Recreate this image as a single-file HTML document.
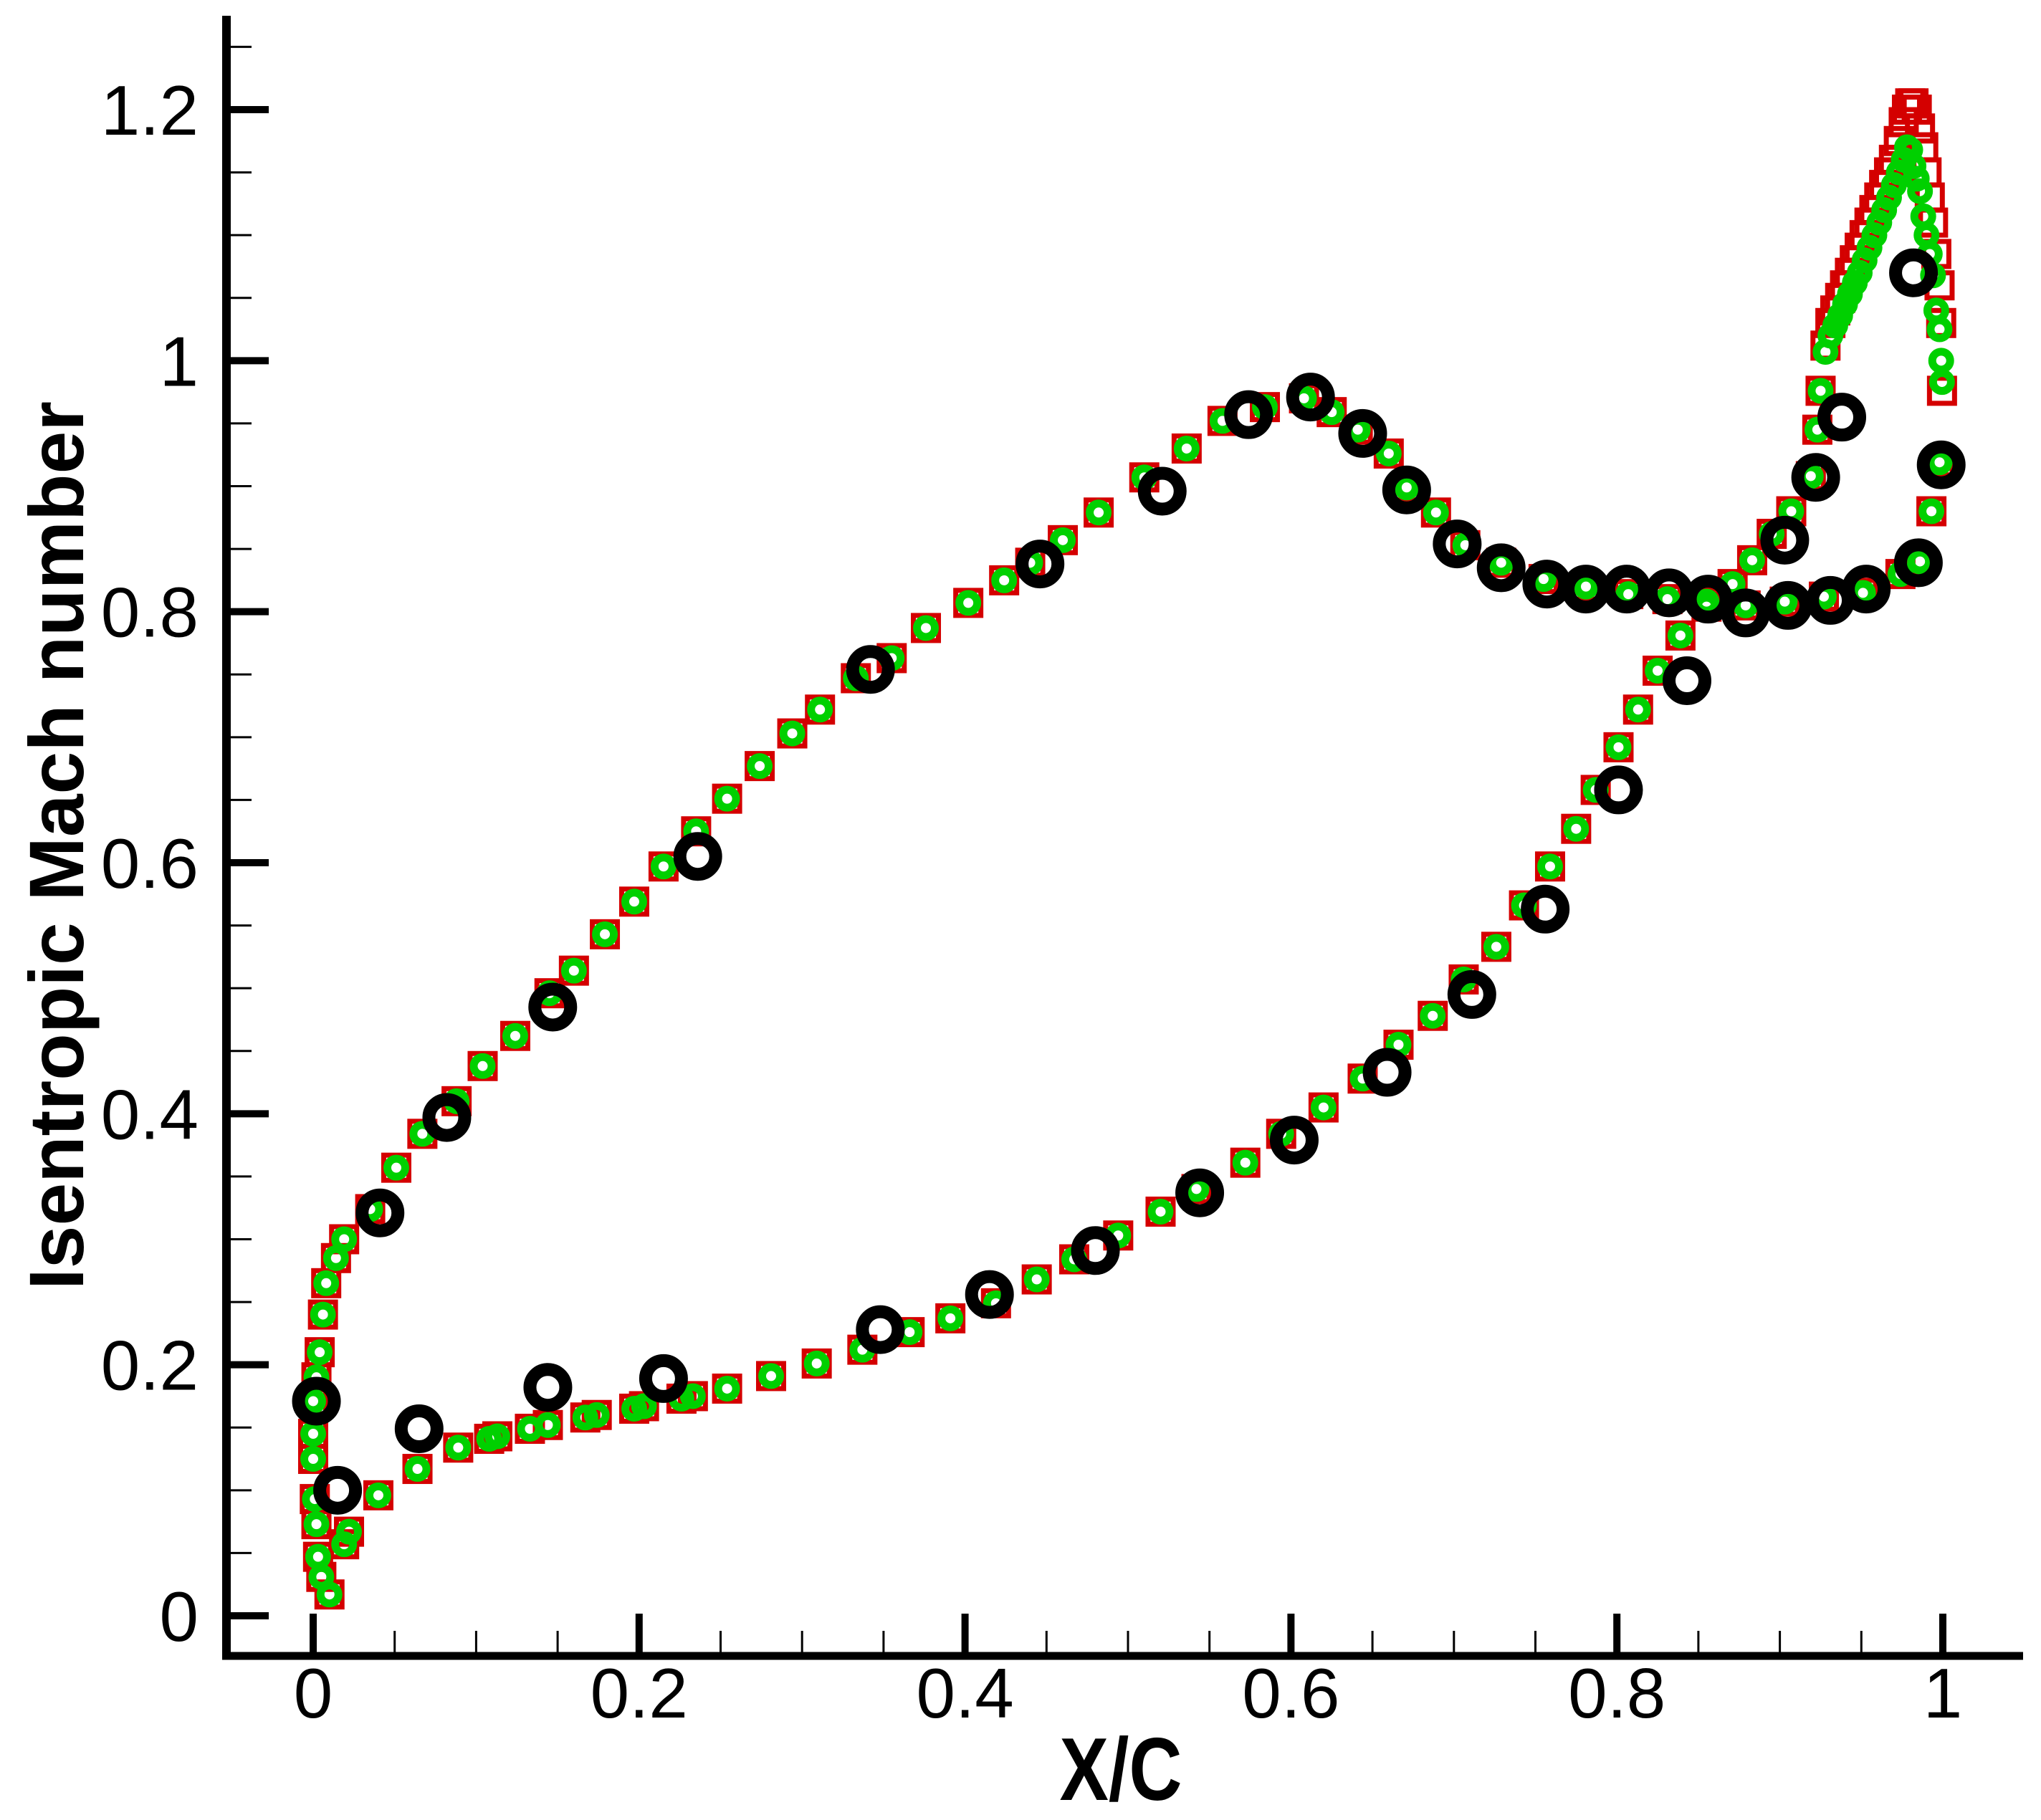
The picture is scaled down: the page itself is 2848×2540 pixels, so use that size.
<!DOCTYPE html>
<html><head><meta charset="utf-8"><title>Isentropic Mach number</title>
<style>html,body{margin:0;padding:0;background:#fff;}svg{display:block;}</style></head>
<body>
<svg id="chart" width="2848" height="2540" viewBox="0 0 2848 2540" xmlns="http://www.w3.org/2000/svg">
<rect x="0" y="0" width="2848" height="2540" fill="#fff"/>
<g id="marks"></g>
<g id="axes"></g>
<text x="1564" y="2512" text-anchor="middle" font-family="Liberation Sans, sans-serif" font-weight="bold" font-size="124" textLength="171" lengthAdjust="spacingAndGlyphs">X/C</text>
<text transform="translate(116,1180) rotate(-90)" text-anchor="middle" font-family="Liberation Sans, sans-serif" font-weight="bold" font-size="108" textLength="1240" lengthAdjust="spacingAndGlyphs">Isentropic Mach number</text>
</svg>
<script>
// ---- data ----
const cfdUpperX = [0,0.002,0.004,0.006,0.008,0.014,0.019,0.035,0.051,0.067,0.088,0.104,0.124,0.145,0.16,0.179,0.197,0.215,0.235,0.254,0.274,0.294,0.311,0.333,0.355,0.376,0.402,0.424,0.44,0.46,0.482,0.51,0.536,0.558,0.584,0.608,0.625,0.641,0.66,0.671,0.689,0.707,0.729,0.755,0.781,0.807,0.831,0.855,0.879,0.903,0.927,0.951,0.974,0.986,0.993,0.998];
const cfdUpperY = [0.171,0.19,0.21,0.24,0.265,0.285,0.30,0.324,0.357,0.384,0.41,0.438,0.462,0.496,0.514,0.543,0.569,0.597,0.625,0.651,0.677,0.703,0.722,0.747,0.763,0.787,0.807,0.825,0.839,0.857,0.879,0.907,0.93,0.952,0.963,0.97,0.959,0.945,0.926,0.899,0.879,0.853,0.839,0.826,0.82,0.814,0.81,0.808,0.805,0.808,0.812,0.815,0.83,0.84,0.88,0.919];
const cfdLowerX = [0,0,0.001,0.002,0.003,0.005,0.01,0.019,0.022,0.04,0.064,0.089,0.108,0.113,0.133,0.144,0.167,0.174,0.197,0.203,0.226,0.233,0.254,0.281,0.309,0.337,0.366,0.391,0.419,0.444,0.467,0.494,0.52,0.542,0.572,0.594,0.62,0.644,0.666,0.687,0.706,0.726,0.743,0.759,0.775,0.787,0.801,0.813,0.825,0.839,0.855,0.871,0.883,0.895,0.907,
 0.919,0.923,0.925,0.928,0.931,0.934,0.937,0.940,0.943,0.946,0.949,0.952,0.955,0.958,0.961,0.964,0.967,0.970,0.973,0.976,0.978,0.980,0.982,0.984,0.986,0.988,0.990,0.992,0.994,0.996,0.998,0.999,0.9995];
const cfdLowerRedY = [0.145,0.125,0.093,0.073,0.047,0.031,0.017,0.057,0.067,0.096,0.117,0.134,0.141,0.143,0.149,0.152,0.158,0.16,0.165,0.167,0.173,0.175,0.181,0.191,0.201,0.212,0.226,0.237,0.249,0.268,0.284,0.303,0.322,0.34,0.361,0.384,0.405,0.428,0.455,0.478,0.507,0.533,0.566,0.597,0.627,0.658,0.692,0.722,0.753,0.781,0.804,0.822,0.841,0.862,0.88,
 0.908,0.945,0.976,1.012,1.03,1.04,1.05,1.06,1.07,1.08,1.09,1.10,1.11,1.12,1.13,1.14,1.15,1.16,1.175,1.19,1.20,1.205,1.205,1.20,1.185,1.17,1.15,1.13,1.11,1.085,1.06,1.03,0.976];
const cfdLowerGreenY = [0.145,0.125,0.093,0.073,0.047,0.031,0.017,0.057,0.067,0.096,0.117,0.134,0.141,0.143,0.149,0.152,0.158,0.16,0.165,0.167,0.173,0.175,0.181,0.191,0.201,0.212,0.226,0.237,0.249,0.268,0.284,0.303,0.322,0.34,0.361,0.384,0.405,0.428,0.455,0.478,0.507,0.533,0.566,0.597,0.627,0.658,0.692,0.722,0.753,0.781,0.804,0.822,0.841,0.862,0.88,
 0.908,0.945,0.976,1.007,1.02,1.028,1.036,1.045,1.053,1.062,1.07,1.08,1.09,1.1,1.11,1.12,1.13,1.14,1.15,1.16,1.17,1.168,1.155,1.145,1.135,1.115,1.1,1.085,1.068,1.04,1.025,1.0,0.983];
const expX = [0.002,0.041,0.082,0.147,0.236,0.342,0.446,0.521,0.574,0.612,0.644,0.671,0.702,0.729,0.757,0.781,0.806,0.832,0.856,0.879,0.905,0.931,0.953,0.985,0.999,0.015,0.065,0.144,0.215,0.348,0.415,0.48,0.544,0.602,0.659,0.711,0.756,0.801,0.843,0.903,0.922,0.938,0.982];
const expY = [0.171,0.321,0.397,0.485,0.605,0.754,0.838,0.896,0.957,0.971,0.942,0.897,0.854,0.835,0.822,0.818,0.818,0.815,0.81,0.799,0.805,0.809,0.818,0.839,0.917,0.1,0.149,0.182,0.189,0.228,0.256,0.291,0.337,0.379,0.433,0.495,0.563,0.658,0.745,0.857,0.907,0.955,1.07];
const xTicks = [0,0.2,0.4,0.6,0.8,1];
const xTickLabels = ["0","0.2","0.4","0.6","0.8","1"];
const yTicks = [0,0.2,0.4,0.6,0.8,1,1.2];
const yTickLabels = ["0","0.2","0.4","0.6","0.8","1","1.2"];

// ---- scales ----
const X0=437, X1=2711, Y0=2255, Y12=153;
function sx(v){return X0+(X1-X0)*v;}
function sy(v){return Y0-(Y0-Y12)*v/1.2;}
const NS="http://www.w3.org/2000/svg";
const marks=document.getElementById('marks');
const axes=document.getElementById('axes');
function mk(tag,attrs,parent){const e=document.createElementNS(NS,tag);for(const k in attrs)e.setAttribute(k,attrs[k]);parent.appendChild(e);return e;}

const gRed=mk('g',{},marks);


function redSquares(xs,ys){for(let i=0;i<xs.length;i++){const s=mk('rect',{x:sx(xs[i])-17.5,y:sy(ys[i])-17.5,width:35,height:35,fill:'none',stroke:'#d40000','stroke-width':7},gRed);

}}
redSquares(cfdUpperX,cfdUpperY);redSquares(cfdLowerX,cfdLowerRedY);

const gGreen=mk('g',{},marks);


function greenCircles(xs,ys){for(let i=0;i<xs.length;i++){const c=mk('circle',{cx:sx(xs[i]),cy:sy(ys[i]),r:12.5,fill:'none',stroke:'#00d000','stroke-width':11},gGreen);

}}
greenCircles(cfdUpperX,cfdUpperY);greenCircles(cfdLowerX,cfdLowerGreenY);

const gBlk=mk('g',{},marks);


for(let i=0;i<expX.length;i++){const c=mk('circle',{cx:sx(expX[i]),cy:sy(expY[i]),r:25,fill:'none',stroke:'#000','stroke-width':18},gBlk);

}

// axes
const yl=mk('line',{x1:316,y1:22,x2:316,y2:2316,stroke:'#000','stroke-width':12},axes);


const xl=mk('line',{x1:310,y1:2311,x2:2823,y2:2311,stroke:'#000','stroke-width':11},axes);


for(let k=0;k<=25;k++){const v=k*0.05;const y=sy(v);const major=(k%4===0);
const t=mk('line',{x1:321,y1:y,x2:major?375:351,y2:y,stroke:'#000','stroke-width':major?10:3},axes);

}
for(let k=0;k<=20;k++){const v=k*0.05;const x=sx(v);const major=(k%4===0);
const t=mk('line',{x1:x,y1:2306,x2:x,y2:major?2252:2276,stroke:'#000','stroke-width':major?10:3},axes);

}
for(let i=0;i<xTicks.length;i++){const t=mk('text',{x:sx(xTicks[i]),y:2397,'text-anchor':'middle','font-family':'Liberation Sans, sans-serif','font-size':98},axes);
t.textContent=xTickLabels[i];

}
for(let i=0;i<yTicks.length;i++){const t=mk('text',{x:277,y:sy(yTicks[i])+35,'text-anchor':'end','font-family':'Liberation Sans, sans-serif','font-size':98},axes);
t.textContent=yTickLabels[i];

}
</script>
</body></html>
